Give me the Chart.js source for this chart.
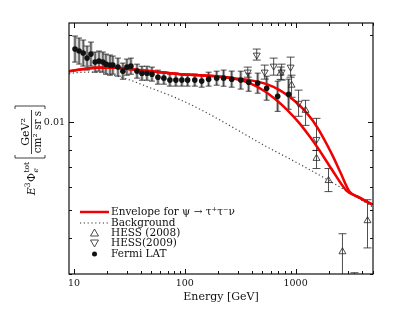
<!DOCTYPE html>
<html>
<head>
<meta charset="utf-8">
<script src="https://cdn.jsdelivr.net/npm/chart.js@4/dist/chart.umd.min.js"></script>
<style>
  html, body { margin: 0; background: #fff; }
</style>
</head>
<body>
<canvas id="graphique" width="411" height="309"></canvas>
<script>
// Axes
const xTicks = [10, 20, 30, 40, 50, 60, 70, 80, 90, 100, 200, 300, 400, 500, 600, 700, 800, 900, 1000, 2000, 3000, 4000, 5000];
const xLabels = [10, 100, 1000];
const yTicks = [0.003, 0.004, 0.005, 0.006, 0.007, 0.008, 0.009, 0.01, 0.02];
const yLabels = [0.01];

// Envelope for psi -> tau+ tau- nu (two curves)
const envHautE = [9, 14.8, 21.1, 31.9, 59.6, 90.2, 168, 270, 385, 548, 718, 940, 1156, 1422, 1750, 2154, 2543, 3063, 3776, 4940];
const envHautFlux = [0.01501, 0.01538, 0.01544, 0.01525, 0.01489, 0.01466, 0.01448, 0.01420, 0.01398, 0.01354, 0.01291, 0.01201, 0.01118, 0.01016, 0.00895, 0.00769, 0.00671, 0.00577, 0.00550, 0.00520];
const envBasE = [9, 14.8, 21.1, 31.9, 59.6, 90.2, 168, 270, 385, 526, 674, 847, 1086, 1337, 1645, 2154, 2876, 3776, 4940];
const envBasFlux = [0.01501, 0.01538, 0.01544, 0.01525, 0.01489, 0.01466, 0.01448, 0.01420, 0.01365, 0.01280, 0.01191, 0.01100, 0.00992, 0.00895, 0.00800, 0.00682, 0.00582, 0.00550, 0.00520];

// Background
const fondE = [9, 10, 15, 20, 30, 50, 85, 150, 206, 300, 500, 1000, 2000, 2876, 5000];
const fondFlux = [0.0147, 0.0148, 0.0149, 0.0147, 0.0141, 0.0131, 0.0121, 0.0109, 0.0102, 0.0094, 0.0084, 0.0073, 0.0063, 0.0058, 0.0051];

// HESS (2008)
const hess08E = [733, 920, 1230, 1545, 1982, 2650, 3405, 4460];
const hess08Flux = [0.01477, 0.01343, 0.01100, 0.00751, 0.00630, 0.00358, 0.00220, 0.00458];
const hess08Haut = [0.01551, 0.01454, 0.01191, 0.00800, 0.00693, 0.00413, 0.00303, 0.00541];
const hess08Bas = [0.01406, 0.01220, 0.00976, 0.00693, 0.00577, 0.00290, 0.00150, 0.00369];

// HESS(2009)
const hess09E = [370, 446, 526, 634, 748, 902, 1064, 1545];
const hess09Flux = [0.01490, 0.01705, 0.01490, 0.01562, 0.01490, 0.01550, 0.01163, 0.00873];
const hess09Haut = [0.01550, 0.01789, 0.01575, 0.01665, 0.01587, 0.01678, 0.01291, 0.01032];
const hess09Bas = [0.01431, 0.01639, 0.01409, 0.01454, 0.01398, 0.01431, 0.01049, 0.00800];

// Fermi LAT
const fermiE = [10.2, 11.1, 12.1, 13.1, 14.2, 15.5, 16.8, 18.2, 19.4, 21.1, 22.4, 24.9, 27.6, 30.0, 32.6, 37.0, 41.0, 45.5, 50.5, 57.2, 64.7, 73.3, 83.0, 94.0, 106, 123, 142, 164, 194, 224, 265, 320, 377, 455, 548, 689, 865];
const fermiFlux = [0.01789, 0.01761, 0.01733, 0.01665, 0.01719, 0.01613, 0.01626, 0.01613, 0.01587, 0.01575, 0.01575, 0.01550, 0.01501, 0.01550, 0.01562, 0.01501, 0.01477, 0.01477, 0.01466, 0.01431, 0.01420, 0.01398, 0.01398, 0.01398, 0.01398, 0.01398, 0.01387, 0.01409, 0.01420, 0.01420, 0.01409, 0.01398, 0.01375, 0.01365, 0.01311, 0.01230, 0.01250];
const fermiHaut = [0.01984, 0.01953, 0.01922, 0.01832, 0.01891, 0.01747, 0.01761, 0.01747, 0.01719, 0.01706, 0.01692, 0.01665, 0.01600, 0.01652, 0.01665, 0.01587, 0.01561, 0.01561, 0.01550, 0.01513, 0.01490, 0.01467, 0.01467, 0.01467, 0.01467, 0.01467, 0.01455, 0.01489, 0.01501, 0.01514, 0.01502, 0.01501, 0.01477, 0.01478, 0.01442, 0.01386, 0.01409];
const fermiBas = [0.01613, 0.01588, 0.01563, 0.01514, 0.01563, 0.01489, 0.01501, 0.01489, 0.01465, 0.01454, 0.01466, 0.01443, 0.01408, 0.01454, 0.01465, 0.01420, 0.01397, 0.01397, 0.01387, 0.01354, 0.01354, 0.01333, 0.01333, 0.01333, 0.01333, 0.01333, 0.01322, 0.01333, 0.01343, 0.01332, 0.01322, 0.01302, 0.01280, 0.01260, 0.01192, 0.01091, 0.01109];

const police = "'DejaVu Serif', serif";
const rouge = "rgb(240, 0, 0)";

function points(xs, ys) {
  return xs.map((x, i) => ({ x: x, y: ys[i] }));
}

// Barres d'erreur, dessinées avec les échelles du graphique
const barresErreur = {
  id: "barresErreur",
  beforeDatasetsDraw(chart) {
    const ctx = chart.ctx;
    const sx = chart.scales.x;
    const sy = chart.scales.y;
    const a = chart.chartArea;
    ctx.save();
    ctx.beginPath();
    ctx.rect(a.left, a.top, a.right - a.left, a.bottom - a.top);
    ctx.clip();

    function barre(e, bas, haut, couleur, largeur, cap) {
      const px = sx.getPixelForValue(e);
      const y1 = sy.getPixelForValue(haut);
      const y2 = sy.getPixelForValue(bas);
      ctx.strokeStyle = couleur;
      ctx.lineWidth = largeur;
      ctx.beginPath();
      ctx.moveTo(px, y1);
      ctx.lineTo(px, y2);
      if (cap) {
        ctx.moveTo(px - cap, y1);
        ctx.lineTo(px + cap, y1);
        ctx.moveTo(px - cap, y2);
        ctx.lineTo(px + cap, y2);
      }
      ctx.stroke();
    }

    // Fermi : bande grise + barre noire
    for (let i = 0; i < fermiE.length; i++) {
      barre(fermiE[i], fermiBas[i], fermiHaut[i], "rgba(150,150,150,0.8)", 3, 0);
      barre(fermiE[i], fermiBas[i], fermiHaut[i], "#222", 0.8, 3);
    }
    for (let i = 0; i < hess08E.length; i++) {
      barre(hess08E[i], hess08Bas[i], hess08Haut[i], "#222", 0.8, 4);
    }
    for (let i = 0; i < hess09E.length; i++) {
      barre(hess09E[i], hess09Bas[i], hess09Haut[i], "#222", 0.8, 4);
    }
    ctx.restore();
  }
};

// Cadre et graduations vers l'intérieur
const cadre = {
  id: "cadre",
  afterDraw(chart) {
    const ctx = chart.ctx;
    const a = chart.chartArea;
    const sx = chart.scales.x;
    const sy = chart.scales.y;
    ctx.save();
    ctx.strokeStyle = "#111";
    ctx.lineWidth = 1;
    ctx.beginPath();
    for (const v of xTicks) {
      const px = Math.round(sx.getPixelForValue(v)) + 0.5;
      const l = xLabels.includes(v) ? 5 : 3;
      ctx.moveTo(px, a.bottom);
      ctx.lineTo(px, a.bottom - l);
      ctx.moveTo(px, a.top);
      ctx.lineTo(px, a.top + l);
    }
    for (const v of yTicks) {
      const py = Math.round(sy.getPixelForValue(v)) + 0.5;
      const l = yLabels.includes(v) ? 5 : 3;
      ctx.moveTo(a.left, py);
      ctx.lineTo(a.left + l, py);
      ctx.moveTo(a.right, py);
      ctx.lineTo(a.right - l, py);
    }
    ctx.stroke();
    ctx.lineWidth = 1.2;
    ctx.strokeRect(a.left, a.top, a.right - a.left, a.bottom - a.top);
    ctx.restore();
  }
};

// Légende dans le coin bas gauche
const legende = {
  id: "legende",
  afterDraw(chart) {
    const ctx = chart.ctx;
    const x0 = 80, x1 = 109, xt = 111;
    const lignes = [212, 223, 233, 243, 254];
    ctx.save();
    ctx.font = "10.5px " + police;
    ctx.fillStyle = "#111";
    ctx.textBaseline = "middle";
    ctx.textAlign = "left";

    ctx.strokeStyle = rouge;
    ctx.lineWidth = 2.5;
    ctx.beginPath();
    ctx.moveTo(x0, lignes[0]);
    ctx.lineTo(x1, lignes[0]);
    ctx.stroke();
    ctx.fillText("Envelope for ψ → τ⁺τ⁻ν", xt, lignes[0]);

    ctx.strokeStyle = "#333";
    ctx.lineWidth = 1.2;
    ctx.setLineDash([1.2, 2.6]);
    ctx.beginPath();
    ctx.moveTo(x0, lignes[1]);
    ctx.lineTo(x1, lignes[1]);
    ctx.stroke();
    ctx.setLineDash([]);
    ctx.fillText("Background", xt, lignes[1]);

    const xm = (x0 + x1) / 2;
    ctx.strokeStyle = "#222";
    ctx.lineWidth = 0.8;
    ctx.beginPath();
    ctx.moveTo(xm, lignes[2] - 4);
    ctx.lineTo(xm + 4, lignes[2] + 3);
    ctx.lineTo(xm - 4, lignes[2] + 3);
    ctx.closePath();
    ctx.stroke();
    ctx.fillText("HESS (2008)", xt, lignes[2]);

    ctx.beginPath();
    ctx.moveTo(xm, lignes[3] + 4);
    ctx.lineTo(xm + 4, lignes[3] - 3);
    ctx.lineTo(xm - 4, lignes[3] - 3);
    ctx.closePath();
    ctx.stroke();
    ctx.fillText("HESS(2009)", xt, lignes[3]);

    ctx.beginPath();
    ctx.arc(xm, lignes[4], 2.5, 0, 2 * Math.PI);
    ctx.fillStyle = "#111";
    ctx.fill();
    ctx.fillText("Fermi LAT", xt, lignes[4]);
    ctx.restore();
  }
};

// Titre de l'axe y : E^3 Phi_e^tot [GeV^2 / cm^2 sr s]
const titreY = {
  id: "titreY",
  afterDraw(chart) {
    const ctx = chart.ctx;
    ctx.save();
    ctx.rotate(-Math.PI / 2);
    ctx.fillStyle = "#111";
    ctx.strokeStyle = "#111";
    ctx.textBaseline = "alphabetic";
    ctx.textAlign = "left";
    const base = 35;
    const grand = "11px " + police;
    const petit = "7.5px " + police;

    // crochets et fraction
    const g = -158, d = -106;
    ctx.lineWidth = 0.8;
    ctx.beginPath();
    ctx.moveTo(g + 3, 15); ctx.lineTo(g, 15); ctx.lineTo(g, 45); ctx.lineTo(g + 3, 45);
    ctx.moveTo(d - 3, 15); ctx.lineTo(d, 15); ctx.lineTo(d, 45); ctx.lineTo(d - 3, 45);
    ctx.moveTo(g + 4, 31.5); ctx.lineTo(d - 4, 31.5);
    ctx.stroke();
    const centre = (g + d) / 2;
    ctx.textAlign = "center";
    ctx.font = grand;
    ctx.fillText("GeV²", centre, 29);
    ctx.font = "10.5px " + police;
    ctx.fillText("cm² sr s", centre, 41);

    // E^3 Phi_e^tot
    ctx.textAlign = "left";
    ctx.font = "italic " + grand;
    const wE = ctx.measureText("E").width;
    ctx.font = petit;
    const w3 = ctx.measureText("3").width;
    ctx.font = grand;
    const wPhi = ctx.measureText("Φ").width;
    ctx.font = petit;
    const wTot = ctx.measureText("tot").width;
    let u = g - 4 - (wE + w3 + wPhi + wTot + 1);
    ctx.font = "italic " + grand;
    ctx.fillText("E", u, base);
    u += wE;
    ctx.font = petit;
    ctx.fillText("3", u, base - 5);
    u += w3 + 0.5;
    ctx.font = grand;
    ctx.fillText("Φ", u, base);
    u += wPhi + 0.5;
    ctx.font = "italic " + petit;
    ctx.fillText("e", u, base + 3);
    ctx.font = petit;
    ctx.fillText("tot", u, base - 6);
    ctx.restore();
  }
};

const config = {
  type: "scatter",
  data: {
    datasets: [
      {
        label: "Fermi LAT",
        data: points(fermiE, fermiFlux),
        pointStyle: "circle",
        pointRadius: 2.8,
        backgroundColor: "#111",
        borderColor: "#111",
        borderWidth: 0
      },
      {
        label: "HESS (2008)",
        data: points(hess08E, hess08Flux),
        pointStyle: "triangle",
        pointRadius: 4,
        backgroundColor: "rgba(255,255,255,0)",
        borderColor: "#222",
        borderWidth: 0.8
      },
      {
        label: "HESS(2009)",
        data: points(hess09E, hess09Flux),
        pointStyle: "triangle",
        rotation: 180,
        pointRadius: 4,
        backgroundColor: "rgba(255,255,255,0)",
        borderColor: "#222",
        borderWidth: 0.8
      },
      {
        label: "Envelope",
        data: points(envHautE, envHautFlux),
        showLine: true,
        borderColor: rouge,
        borderWidth: 2.5,
        pointRadius: 0,
        cubicInterpolationMode: "monotone"
      },
      {
        label: "Envelope bas",
        data: points(envBasE, envBasFlux),
        showLine: true,
        borderColor: rouge,
        borderWidth: 2.5,
        pointRadius: 0,
        cubicInterpolationMode: "monotone"
      },
      {
        label: "Background",
        data: points(fondE, fondFlux),
        showLine: true,
        borderColor: "#444",
        borderWidth: 1.2,
        borderDash: [1.2, 2.6],
        pointRadius: 0,
        cubicInterpolationMode: "monotone"
      }
    ]
  },
  options: {
    responsive: false,
    animation: false,
    layout: { padding: { left: 0, right: 38, top: 23, bottom: 0 } },
    plugins: {
      legend: { display: false },
      tooltip: { enabled: false }
    },
    scales: {
      x: {
        type: "logarithmic",
        min: 9,
        max: 5000,
        grid: { display: false, drawTicks: false },
        border: { display: false },
        afterBuildTicks: (s) => { s.ticks = xTicks.map(v => ({ value: v })); },
        afterFit: (s) => { s.height = 35; },
        ticks: {
          autoSkip: false,
          maxRotation: 0,
          padding: 4,
          color: "#111",
          font: { family: police, size: 9.5 },
          callback: (v) => xLabels.includes(v) ? String(v) : ""
        },
        title: {
          display: true,
          text: "Energy [GeV]",
          color: "#111",
          font: { family: police, size: 11 },
          padding: { top: 0, bottom: 5 }
        }
      },
      y: {
        type: "logarithmic",
        min: 0.003,
        max: 0.022,
        grid: { display: false, drawTicks: false },
        border: { display: false },
        afterBuildTicks: (s) => { s.ticks = yTicks.map(v => ({ value: v })); },
        afterFit: (s) => { s.width = 69; },
        ticks: {
          autoSkip: false,
          padding: 4,
          color: "#111",
          font: { family: police, size: 9.5 },
          callback: (v) => yLabels.includes(v) ? String(v) : ""
        }
      }
    }
  },
  plugins: [barresErreur, cadre, legende, titreY]
};

const graphique = new Chart(document.querySelector("#graphique"), config);
</script>
</body>
</html>
